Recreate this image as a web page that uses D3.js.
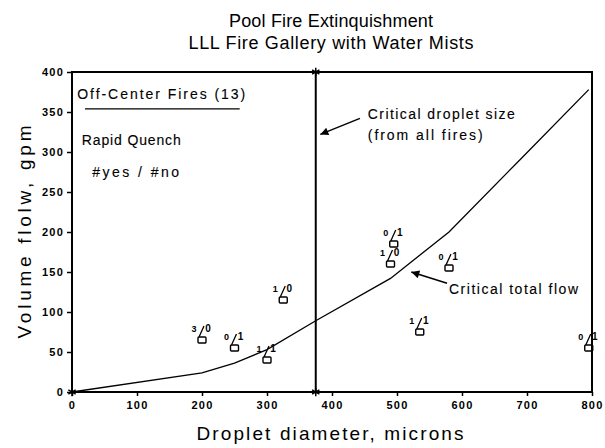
<!DOCTYPE html>
<html><head><meta charset="utf-8">
<script src="https://cdn.jsdelivr.net/npm/d3@7"></script>
<style>
body{margin:0;background:#fff;}
text{font-family:"Liberation Sans",Arial,sans-serif;fill:#000;}
</style></head>
<body><svg id="c" width="605" height="448"></svg>
<script>
// ---- data ----
const curveX = [0, 200, 250, 300, 375, 490, 580, 690, 795];
const curveY = [0, 24, 36, 53, 89, 142, 200, 291, 378];
const pointX = [200, 250, 300, 325, 495, 490, 580, 535, 795];
const pointY = [65, 55, 40, 115, 185, 160, 155, 75, 55];
const pointYes = [3, 0, 1, 1, 0, 1, 0, 1, 0];
const pointNo  = [0, 1, 1, 0, 1, 0, 1, 1, 1];
const criticalDroplet = 375;
const xTicks = [0, 100, 200, 300, 400, 500, 600, 700, 800];
const yTicks = [0, 50, 100, 150, 200, 250, 300, 350, 400];
const titleLines = ["Pool Fire Extinquishment", "LLL Fire Gallery with Water Mists"];

const svg = d3.select("#c");
const M = {l:72, r:592, t:72, b:392};
const x = d3.scaleLinear().domain([0, 800]).range([M.l, M.r]);
const y = d3.scaleLinear().domain([0, 400]).range([M.b, M.t]);

function heavy(sel, w){ return sel.attr("stroke","#000").attr("stroke-width",w).attr("paint-order","stroke"); }

// title
const titleW = [204, 285];
svg.selectAll(".title").data(titleLines).join("text")
  .attr("x", 331).attr("y", (d,i)=>27+i*22)
  .attr("text-anchor","middle").attr("font-size",18)
  .attr("textLength",(d,i)=>titleW[i]).attr("lengthAdjust","spacing")
  .text(d=>d);

// frame
svg.append("rect").attr("x",M.l).attr("y",M.t).attr("width",M.r-M.l).attr("height",M.b-M.t)
  .attr("fill","none").attr("stroke","#000").attr("stroke-width",2);

// axes
const xa = svg.append("g").attr("transform",`translate(0,${M.b})`)
  .call(d3.axisBottom(x).tickValues(xTicks).tickSize(4).tickPadding(5));
const ya = svg.append("g").attr("transform",`translate(${M.l},0)`)
  .call(d3.axisLeft(y).tickValues(yTicks).tickSize(5).tickPadding(3));
[xa, ya].forEach(g=>{
  g.select(".domain").remove();
  g.selectAll(".tick line").attr("stroke","#000").attr("stroke-width",1.5);
  g.selectAll(".tick text").attr("font-size",11).attr("font-weight","bold")
    .attr("letter-spacing",1.2).attr("font-family","Liberation Sans, Arial, sans-serif");
});

// axis titles
svg.append("text").attr("x",330).attr("y",440).attr("text-anchor","middle")
  .attr("font-size",19).attr("textLength",267).attr("lengthAdjust","spacing")
  .text("Droplet diameter,  microns");
svg.append("text").attr("transform","translate(31,232) rotate(-90)").attr("text-anchor","middle")
  .attr("font-size",19).attr("textLength",213).attr("lengthAdjust","spacing")
  .text("Volume flolw,  gpm");

// critical droplet line
svg.append("line").attr("x1",x(criticalDroplet)).attr("x2",x(criticalDroplet))
  .attr("y1",y(400)).attr("y2",y(0)).attr("stroke","#000").attr("stroke-width",2);
const ast = d3.symbol().type(d3.symbolAsterisk).size(50);
[[criticalDroplet,400],[criticalDroplet,0],[0,0]].forEach(p=>{
  svg.append("path").attr("d",ast()).attr("transform",`translate(${x(p[0])},${y(p[1])})`)
    .attr("fill","none").attr("stroke","#000").attr("stroke-width",1.5);
});

// critical flow curve
const line = d3.line().x(d=>x(d[0])).y(d=>y(d[1]));
svg.append("path").datum(d3.zip(curveX, curveY)).attr("d", line)
  .attr("fill","none").attr("stroke","#000").attr("stroke-width",1.3);

// points
const pts = pointX.map((v,i)=>({x:v, y:pointY[i], yes:pointYes[i], no:pointNo[i]}));
const g = svg.selectAll(".pt").data(pts).join("g")
  .attr("transform", d=>`translate(${x(d.x)},${y(d.y)})`);
g.append("rect").attr("x",-4).attr("y",-3).attr("width",8).attr("height",6).attr("rx",1)
  .attr("fill","none").attr("stroke","#000").attr("stroke-width",1.4);
g.append("line").attr("x1",-3).attr("y1",-3).attr("x2",2).attr("y2",-14)
  .attr("stroke","#000").attr("stroke-width",1.3);
g.append("text").attr("x",-8).attr("y",-8).attr("font-size",9).attr("font-weight","bold")
  .attr("text-anchor","middle").text(d=>d.yes);
g.append("text").attr("x",6).attr("y",-8).attr("font-size",10).attr("font-weight","bold")
  .attr("text-anchor","middle").text(d=>d.no);

// annotations
const ann = [
  {t:"Off-Center Fires (13)", x:8, y:366, w:168},
  {t:"Rapid Quench", x:15, y:309, w:99},
  {t:"#yes / #no", x:31, y:269, w:87},
  {t:"Critical droplet size", x:455, y:341, w:147},
  {t:"(from all fires)", x:455, y:315, w:115},
  {t:"Critical total flow", x:580, y:122, w:129}
];
heavy(svg.selectAll(".ann").data(ann).join("text")
  .attr("x",d=>x(d.x)).attr("y",d=>y(d.y)).attr("font-size",14)
  .attr("textLength",d=>d.w).attr("lengthAdjust","spacing")
  .text(d=>d.t), 0.12);
svg.append("line").attr("x1",x(20)).attr("x2",x(258)).attr("y1",y(354)).attr("y2",y(354))
  .attr("stroke","#000").attr("stroke-width",1.3);

// arrows
const defs = svg.append("defs");
defs.append("marker").attr("id","ah").attr("viewBox","0 0 10 10").attr("refX",10).attr("refY",5)
  .attr("markerWidth",16).attr("markerHeight",8).attr("markerUnits","userSpaceOnUse").attr("orient","auto")
  .append("path").attr("d","M0,0L10,5L0,10Z").attr("fill","#000");
[[443,342,382,322],[577,136,522,150]].forEach(a=>{
  svg.append("line").attr("x1",x(a[0])).attr("y1",y(a[1])).attr("x2",x(a[2])).attr("y2",y(a[3]))
    .attr("stroke","#000").attr("stroke-width",1.5).attr("marker-end","url(#ah)");
});
</script></body></html>
